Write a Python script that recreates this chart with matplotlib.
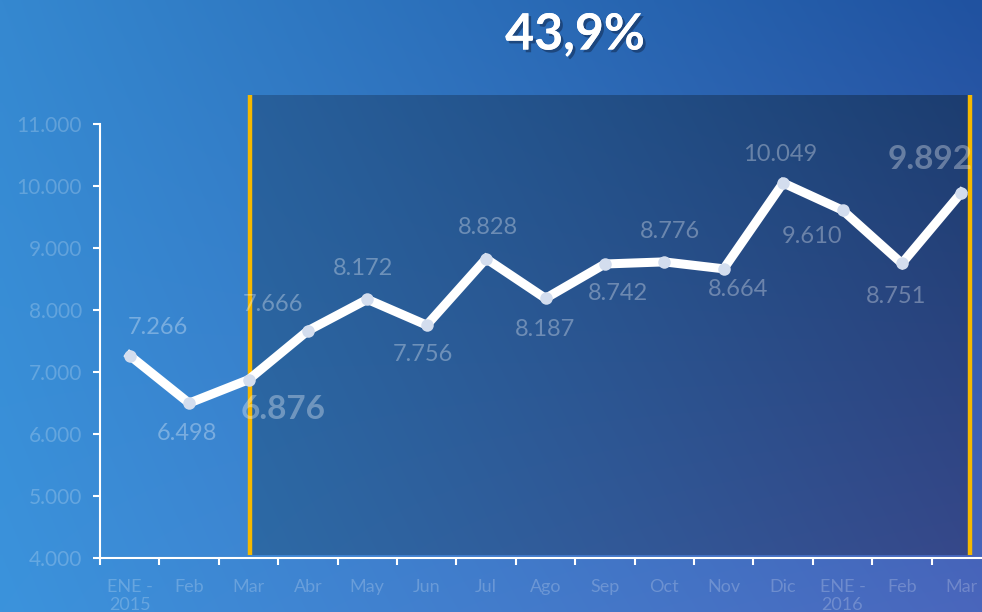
import matplotlib
matplotlib.use('Agg')
import matplotlib.pyplot as plt
import matplotlib.patheffects as pe
from matplotlib.colors import to_rgb
import numpy as np

# ---- data ----
months = ['ENE -\n2015', 'Feb', 'Mar', 'Abr', 'May', 'Jun', 'Jul', 'Ago', 'Sep',
          'Oct', 'Nov', 'Dic', 'ENE -\n2016', 'Feb', 'Mar']
values = [7266, 6498, 6876, 7666, 8172, 7756, 8828, 8187, 8742,
          8776, 8664, 10049, 9610, 8751, 9892]
labels = ['7.266', '6.498', '6.876', '7.666', '8.172', '7.756', '8.828', '8.187',
          '8.742', '8.776', '8.664', '10.049', '9.610', '8.751', '9.892']
bold_idx = [2, 14]
yticks = [4000, 5000, 6000, 7000, 8000, 9000, 10000, 11000]
ytick_labels = ['4.000', '5.000', '6.000', '7.000', '8.000', '9.000', '10.000', '11.000']
title = '43,9%'

# ---- style ----
W, H = 982, 612
FONT = 'Lato'
LINE_C, MARK_C, GOLD_C = 'white', '#d3ddee', '#f5b800'
TICK_C = (1, 1, 1, 0.22)
LABEL_C = (1, 1, 1, 0.32)
# label offsets (pixels) from each point
offsets = [(28, 28), (-2, -30), (35, -30), (-35, 26), (-4, 31), (-4, -29), (2, 31),
           (0, -31), (13, -30), (6, 30), (14, -21), (-3, 28), (-30, -26), (-6, -33),
           (-31, 33)]


def gradient(tl, tr, bl, br, n=200):
    tl, tr, bl, br = [np.array(to_rgb(c)) for c in (tl, tr, bl, br)]
    u = np.linspace(0, 1, n)[None, :, None]
    v = np.linspace(0, 1, n)[:, None, None]
    top = tl * (1 - u) + tr * u
    bot = bl * (1 - u) + br * u
    return top * (1 - v) + bot * v


fig = plt.figure(figsize=(W / 100, H / 100), dpi=100)

# background in pixel coordinates
bg = fig.add_axes([0, 0, 1, 1], zorder=0)
bg.axis('off')
bg.imshow(gradient('#3588d0', '#2052a0', '#3b93dc', '#4a66bc'),
          extent=(0, W, H, 0), aspect='auto', interpolation='bilinear')
bg.imshow(gradient('#28609c', '#1c3d70', '#2d6aa6', '#36488a'),
          extent=(250, 970, 555, 95), aspect='auto', interpolation='bilinear')
bg.plot([250, 250], [95, 555], color=GOLD_C, lw=3.2, solid_capstyle='butt')
bg.plot([970, 970], [95, 555], color=GOLD_C, lw=3.2, solid_capstyle='butt')
bg.set_xlim(0, W); bg.set_ylim(H, 0)

# main chart
ax = fig.add_axes([100 / W, (H - 558) / H, 891 / W, 434 / H], zorder=2)
ax.patch.set_alpha(0)
x = np.arange(len(values))
ax.plot(x, values, color=LINE_C, lw=6.5, solid_joinstyle='miter',
        marker='o', ms=9, mfc=MARK_C, mec='none', zorder=3)
for i, (v, lab, off) in enumerate(zip(values, labels, offsets)):
    bold = i in bold_idx
    ax.annotate(lab, (i, v), xytext=off, textcoords='offset pixels',
                ha='center', va='center', color=LABEL_C, family=FONT,
                fontsize=24 if bold else 17, fontweight='bold' if bold else 'normal')

ax.set_xlim(-0.5, len(values) - 0.5)
ax.set_ylim(4000, 11000)
ax.set_yticks(yticks, ytick_labels)
ax.set_xticks(x, months)
ax.set_xticks(np.arange(-0.5, len(values)), minor=True)
ax.tick_params(axis='x', which='major', length=0, pad=15, labelsize=13,
               labelcolor=TICK_C)
ax.tick_params(axis='x', which='minor', length=5, width=1.5, color='white')
ax.tick_params(axis='y', length=5, width=1.5, color='white', labelsize=15,
               labelcolor=TICK_C, pad=8)
for lab in ax.get_xticklabels() + ax.get_yticklabels():
    lab.set_family(FONT)
    lab.set_linespacing(1.15)
for s in ['top', 'right']:
    ax.spines[s].set_visible(False)
for s in ['left', 'bottom']:
    ax.spines[s].set_color('white'); ax.spines[s].set_linewidth(1.5)

fig.text(575 / W, 1 - 35 / H, title, ha='center', va='center', color='white',
         fontsize=36, fontweight='bold', family=FONT,
         path_effects=[pe.withSimplePatchShadow(offset=(2, -2), shadow_rgbFace='#14305a',
                                                alpha=0.6), pe.Normal()])

fig.savefig('out.png', dpi=100)
